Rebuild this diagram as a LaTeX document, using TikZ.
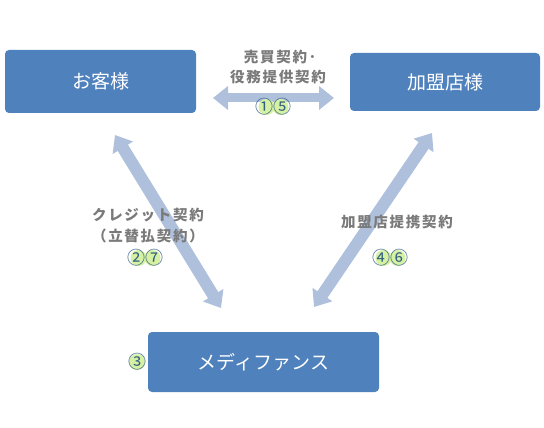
\documentclass[tikz,border=0pt]{standalone}
\usepackage{fontspec}
\setmainfont{Noto Sans CJK JP}
\newfontfamily\lblfont{Noto Sans CJK JP}[LetterSpace=12]
\usetikzlibrary{arrows.meta}
\definecolor{boxblue}{HTML}{4F81BD}
\definecolor{arrowc}{HTML}{AFC0DC}
\definecolor{lblgrey}{HTML}{7A7A7A}
\definecolor{numc}{HTML}{2F5F80}
\definecolor{glowc}{HTML}{D6F0A4}
\tikzset{
  party/.style={draw=none, fill=boxblue, rounded corners=4pt, text=white,
    font=\fontsize{19}{21}\selectfont, inner sep=0pt, anchor=center},
  blockarrow/.style={draw=arrowc, line width=#1,
    {Triangle[width=23pt,length=15pt]}-{Triangle[width=23pt,length=15pt]}},
  lbl/.style={text=lblgrey, font=\lblfont\fontsize{14.5}{16}\selectfont\bfseries, inner sep=0pt, align=center},
  num/.style={text=numc, font=\fontsize{18}{18}\selectfont, inner sep=0pt},
  glow/.style={fill=glowc}
}
\begin{document}
\begin{tikzpicture}[x=1pt,y=-1pt]
\useasboundingbox (0,0) rectangle (544,428);
% boxes
\node[party, minimum width=191pt, minimum height=63pt] (cust) at (100.5,81.5) {お客様};
\node[party, minimum width=190pt, minimum height=58pt] (store) at (445,82) {加盟店様};
\node[party, minimum width=231pt, minimum height=60pt] (mds) at (263.5,362) {メディファンス};
% arrow end points
\coordinate (tl) at (213,98);
\coordinate (tr) at (334,98);
\coordinate (ll) at (115,135);
\coordinate (lr) at (221,308);
\coordinate (rl) at (432,133);
\coordinate (rr) at (314,307);
\draw[blockarrow=9pt] (tl) -- (tr);
\draw[blockarrow=12pt] (ll) -- (lr);
\draw[blockarrow=12pt] (rl) -- (rr);
% labels
\node[lbl] (l1) at (280,57) {売買契約･};
\node[lbl] (l2) at (278,77) {役務提供契約};
\node[lbl] (l3) at (148,215) {クレジット契約};
\node[lbl] (l4) at (148,236) {（立替払契約）};
\node[lbl] (l5) at (397,222) {加盟店提携契約};
% glows
\fill[glow] (266.5,107) circle (8pt) (280.5,107) circle (8pt);
\fill[glow] (138.5,258) circle (8pt) (152.5,258) circle (8pt);
\fill[glow] (383.5,258) circle (8pt) (397.5,258) circle (8pt);
\fill[glow] (137,362) circle (8pt);
% numbers
\node[num] (n15) at (273.5,107) {①⑤};
\node[num] (n27) at (145.5,258) {②⑦};
\node[num] (n46) at (390.5,258) {④⑥};
\node[num] (n3) at (137,362) {③};
\end{tikzpicture}
\end{document}
